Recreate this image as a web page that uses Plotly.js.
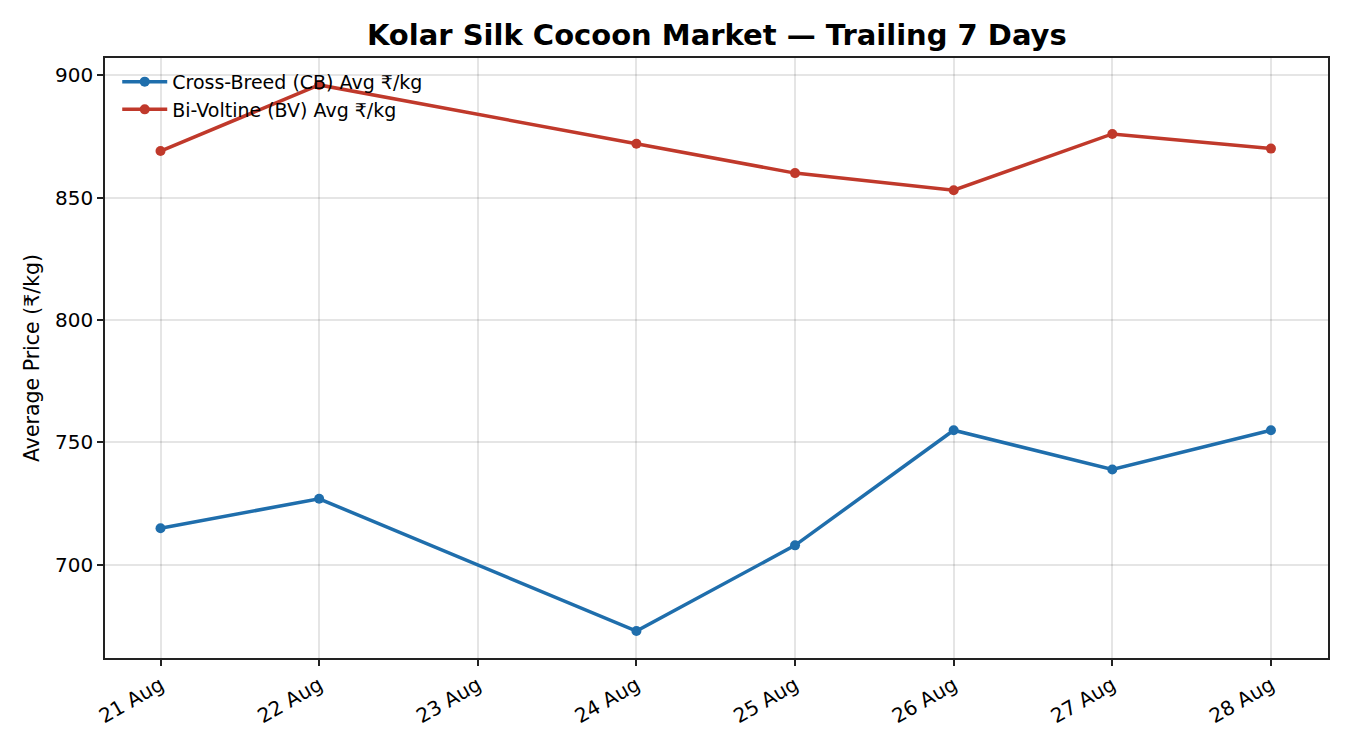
<!DOCTYPE html>
<html>
<head>
<meta charset="utf-8">
<script src="https://cdn.plot.ly/plotly-3.0.1.min.js"></script>
<style>
  html, body { margin: 0; padding: 0; background: #fff; }
  #chart { width: 1350px; height: 750px; }
</style>
</head>
<body>
<div id="chart"></div>
<script>
// Trailing 7 market days (no auction on 23 Aug)
const dates = ['2024-08-21', '2024-08-22', '2024-08-24', '2024-08-25', '2024-08-26', '2024-08-27', '2024-08-28'];
const cbAvg = [715, 727, 673, 708, 755, 739, 755];
const bvAvg = [869, 896, 872, 860, 853, 876, 870];

const FONT = 'DejaVu Sans, sans-serif';

const traces = [
  {
    x: dates,
    y: cbAvg,
    type: 'scatter',
    mode: 'lines+markers',
    name: 'Cross-Breed (CB) Avg ₹/kg',
    line: { color: '#1f6eac', width: 3.5 },
    marker: { color: '#1f6eac', size: 10 },
  },
  {
    x: dates,
    y: bvAvg,
    type: 'scatter',
    mode: 'lines+markers',
    name: 'Bi-Voltine (BV) Avg ₹/kg',
    line: { color: '#c0392b', width: 3.5 },
    marker: { color: '#c0392b', size: 10 },
  },
];

const axisBase = {
  showline: true,
  linecolor: '#222',
  linewidth: 1.5,
  mirror: true,
  ticks: 'outside',
  ticklen: 6,
  tickwidth: 1.5,
  tickcolor: '#222',
  gridcolor: 'rgba(0,0,0,0.1)',
  gridwidth: 1.5,
  zeroline: false,
  tickfont: { family: FONT, size: 20, color: '#000' },
};

const layout = {
  width: 1350,
  height: 750,
  paper_bgcolor: '#fff',
  plot_bgcolor: '#fff',
  margin: { l: 105, r: 22, t: 58, b: 92 },
  font: { family: FONT, color: '#000' },
  title: {
    text: '<b>Kolar Silk Cocoon Market — Trailing 7 Days</b>',
    font: { family: FONT, size: 29, color: '#000' },
    x: 0.531, xanchor: 'center', y: 0.953, yanchor: 'middle',
  },
  xaxis: {
    ...axisBase,
    type: 'date',
    range: ['2024-08-20 15:36', '2024-08-28 08:38'],
    dtick: 86400000,
    tick0: '2024-08-21',
    tickformat: '%-d %b',
    tickangle: -30,
  },
  yaxis: {
    ...axisBase,
    range: [662, 907],
    dtick: 50,
    title: { text: 'Average Price (₹/kg)', font: { family: FONT, size: 20.5, color: '#000' }, standoff: 10 },
  },
  legend: {
    x: 0.01, y: 0.992, xanchor: 'left', yanchor: 'top',
    bgcolor: 'rgba(0,0,0,0)',
    borderwidth: 0,
    itemwidth: 45,
    font: { family: FONT, size: 19, color: '#000' },
    tracegroupgap: 0,
  },
  showlegend: true,
  hovermode: 'x unified',
};

Plotly.newPlot('chart', traces, layout, { displayModeBar: false, responsive: false });
</script>
</body>
</html>
